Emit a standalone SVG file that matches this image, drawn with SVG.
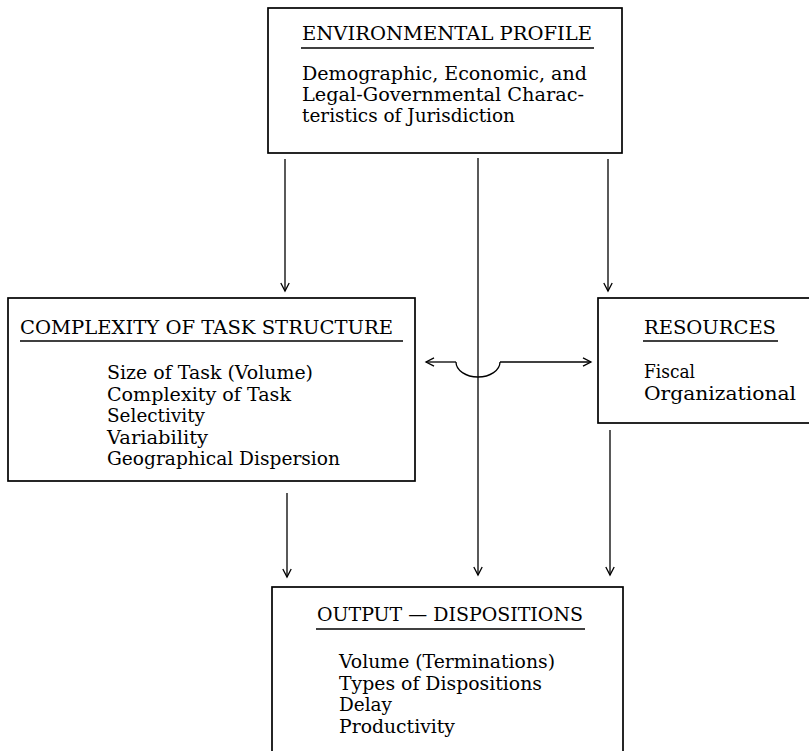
<svg xmlns="http://www.w3.org/2000/svg" width="809" height="751" viewBox="0 0 809 751">
<style>
.box{fill:none;stroke:#000;stroke-width:1.7}
.ul{stroke:#000;stroke-width:1.5}
.t{font-family:"DejaVu Serif","Liberation Serif",serif;font-size:19px;fill:#000}
.c{fill:none;stroke:#000;stroke-width:1.3}
</style>
<defs>
<marker id="ah" markerWidth="12" markerHeight="12" refX="9" refY="5" orient="auto" markerUnits="userSpaceOnUse">
<path d="M1,0.8 L9,5 L1,9.2" fill="none" stroke="#000" stroke-width="1.3"/>
</marker>
</defs>
<rect width="809" height="751" fill="#fff"/>
<g id="environmental-profile">
<rect class="box" x="268" y="8" width="354" height="145"/>
<text class="t" x="302" y="40" textLength="290" lengthAdjust="spacingAndGlyphs">ENVIRONMENTAL PROFILE</text>
<line class="ul" x1="301" y1="48" x2="594" y2="48"/>
<text class="t" x="302" y="80" textLength="285" lengthAdjust="spacingAndGlyphs">Demographic, Economic, and</text>
<text class="t" x="302" y="101" textLength="282" lengthAdjust="spacingAndGlyphs">Legal-Governmental Charac-</text>
<text class="t" x="302" y="121.5" textLength="213" lengthAdjust="spacingAndGlyphs">teristics of Jurisdiction</text>
</g>
<g id="complexity">
<rect class="box" x="8" y="298" width="407" height="183"/>
<text class="t" x="20" y="334" textLength="373" lengthAdjust="spacingAndGlyphs">COMPLEXITY OF TASK STRUCTURE</text>
<line class="ul" x1="20" y1="341" x2="403" y2="341"/>
<text class="t" x="107" y="379" textLength="206" lengthAdjust="spacingAndGlyphs">Size of Task (Volume)</text>
<text class="t" x="107" y="400.5" textLength="184" lengthAdjust="spacingAndGlyphs">Complexity of Task</text>
<text class="t" x="107" y="422" textLength="98" lengthAdjust="spacingAndGlyphs">Selectivity</text>
<text class="t" x="107" y="443.5" textLength="101" lengthAdjust="spacingAndGlyphs">Variability</text>
<text class="t" x="107" y="465" textLength="233" lengthAdjust="spacingAndGlyphs">Geographical Dispersion</text>
</g>
<g id="resources">
<rect class="box" x="598" y="298" width="212" height="125"/>
<text class="t" x="644" y="334" textLength="132" lengthAdjust="spacingAndGlyphs">RESOURCES</text>
<line class="ul" x1="643" y1="341" x2="778" y2="341"/>
<text class="t" x="644" y="378" textLength="51" lengthAdjust="spacingAndGlyphs">Fiscal</text>
<text class="t" x="644" y="399.5" textLength="152" lengthAdjust="spacingAndGlyphs">Organizational</text>
</g>
<g id="output">
<rect class="box" x="272" y="587" width="351" height="180"/>
<text class="t" x="317" y="621" textLength="266" lengthAdjust="spacingAndGlyphs">OUTPUT — DISPOSITIONS</text>
<line class="ul" x1="316" y1="629" x2="585" y2="629"/>
<text class="t" x="339" y="668" textLength="216" lengthAdjust="spacingAndGlyphs">Volume (Terminations)</text>
<text class="t" x="339" y="689.5" textLength="203" lengthAdjust="spacingAndGlyphs">Types of Dispositions</text>
<text class="t" x="339" y="711" textLength="53" lengthAdjust="spacingAndGlyphs">Delay</text>
<text class="t" x="339" y="732.5" textLength="116" lengthAdjust="spacingAndGlyphs">Productivity</text>
</g>
<g id="connectors">
<line class="c" x1="285" y1="159" x2="285" y2="291" marker-end="url(#ah)"/>
<line class="c" x1="478" y1="158" x2="478" y2="575" marker-end="url(#ah)"/>
<line class="c" x1="608" y1="159" x2="608" y2="291" marker-end="url(#ah)"/>
<line class="c" x1="287" y1="493" x2="287" y2="577" marker-end="url(#ah)"/>
<line class="c" x1="610" y1="430" x2="610" y2="575" marker-end="url(#ah)"/>
<path class="c" d="M456,362 A22,15 0 0 0 500,362"/>
<line class="c" x1="456" y1="362" x2="426" y2="362" marker-end="url(#ah)"/>
<line class="c" x1="500" y1="362" x2="591" y2="362" marker-end="url(#ah)"/>
</g>
</svg>
